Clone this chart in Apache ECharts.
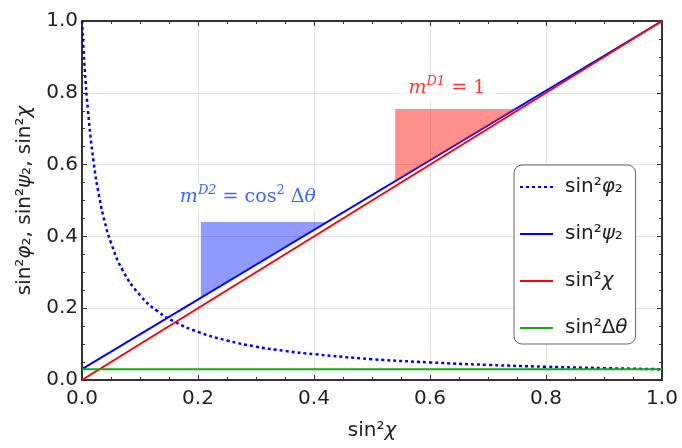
<!DOCTYPE html>
<html><head><meta charset="utf-8">
<script src="https://cdn.jsdelivr.net/npm/echarts@6/dist/echarts.min.js"></script>
<style>html,body{margin:0;padding:0;background:#fff}#c{width:682px;height:448px}</style>
</head><body><div id="c"></div>
<script>
// ---- data ----
const lineX = [0, 1];
const psi2Y = [0.03, 1.0];      // sin^2 psi_2
const chiY = [0.0, 1.0];        // sin^2 chi
const dThetaY = [0.03, 0.03];   // sin^2 Delta theta
const phiX = [0, 0.005, 0.01, 0.02, 0.03, 0.04, 0.05, 0.07, 0.1, 0.13, 0.16, 0.2, 0.25, 0.3, 0.35, 0.4, 0.5, 0.6, 0.7, 0.8, 0.9, 1.0];
const phiY = [1.0, 0.86, 0.756, 0.607, 0.508, 0.436, 0.382, 0.306, 0.236, 0.192, 0.162, 0.134, 0.11, 0.093, 0.081, 0.072, 0.058, 0.049, 0.042, 0.037, 0.033, 0.03];
const blueTriX = [0.205, 0.205, 0.422];
const blueTriY = [0.229, 0.44, 0.44];
const redTriX = [0.54, 0.54, 0.75];
const redTriY = [0.554, 0.755, 0.755];
const blueLabelAt = [0.286, 0.51];
const redLabelAt = [0.629, 0.813];
const seriesNames = ['phi2', 'psi2', 'chi', 'dtheta'];

const pairs = (xs, ys) => xs.map((x, i) => [x, ys[i]]);
const SANS = 'DejaVu Sans';
const SERIF = 'DejaVu Serif';
const TXT = '#222';

const legendText = {
  phi2: '{p|sin²}{i|φ}{n|₂}',
  psi2: '{p|sin²}{i|ψ}{n|₂}',
  chi: '{p|sin²}{i|χ}',
  dtheta: '{p|sin²}{n|Δ}{i|θ}'
};
const richSans = {
  p: {fontFamily: SANS, fontSize: 20, color: TXT, padding: [0, 0, 0, 7]},
  n: {fontFamily: SANS, fontSize: 20, color: TXT},
  i: {fontFamily: SANS, fontSize: 20, fontStyle: 'italic', color: TXT}
};
const richAxis = {
  n: {fontFamily: SANS, fontSize: 20, color: TXT},
  i: {fontFamily: SANS, fontSize: 20, fontStyle: 'italic', color: TXT}
};

function tri(xs, ys, color) {
  return {
    type: 'custom', z: 5, silent: true,
    data: [[xs[0], ys[0]]],
    renderItem: (params, api) => ({
      type: 'polygon',
      shape: {points: xs.map((x, i) => api.coord([x, ys[i]]))},
      style: {fill: color}
    })
  };
}
function mathLabel(at, color, text) {
  return {
    type: 'scatter', z: 6, silent: true, symbolSize: 0,
    data: [at],
    label: {
      show: true, position: 'inside', formatter: text,
      backgroundColor: '#fff', padding: [0, 10],
      rich: {
        m: {fontFamily: SERIF, fontSize: 19, fontStyle: 'italic', color, lineHeight: 26, verticalAlign: 'middle'},
        s: {fontFamily: SERIF, fontSize: 13, fontStyle: 'italic', color, verticalAlign: 'top'},
        t: {fontFamily: SERIF, fontSize: 13, color, verticalAlign: 'top'},
        r: {fontFamily: SERIF, fontSize: 19, color, lineHeight: 26, verticalAlign: 'middle'}
      }
    }
  };
}

const axisCommon = {
  type: 'value', min: 0, max: 1, interval: 0.2,
  axisLine: {show: true, onZero: false, lineStyle: {color: '#333', width: 2}},
  axisTick: {show: true, inside: true, length: 5, lineStyle: {color: '#333', width: 1}},
  minorTick: {show: true, splitNumber: 4, length: 3, lineStyle: {color: '#333', width: 1}}
};

const chart = echarts.init(document.getElementById('c'));
chart.setOption({
  animation: false,
  backgroundColor: '#fff',
  grid: {left: 82, right: 20, top: 21, bottom: 68},
  xAxis: [
    Object.assign({}, axisCommon, {
      position: 'bottom',
      name: '{n|sin²}{i|χ}', nameLocation: 'middle', nameGap: 41,
      nameTextStyle: {rich: richAxis},
      axisLabel: {margin: 9, fontFamily: SANS, fontSize: 20, color: TXT, formatter: v => v.toFixed(1)},
      splitLine: {show: true, lineStyle: {color: '#e3e3e3', width: 1}}
    }),
    Object.assign({}, axisCommon, {position: 'top', axisLabel: {show: false}, splitLine: {show: false}})
  ],
  yAxis: [
    Object.assign({}, axisCommon, {
      position: 'left',
      name: '{n|sin²}{i|φ}{n|₂, sin²}{i|ψ}{n|₂, sin²}{i|χ}', nameLocation: 'middle', nameGap: 46,
      nameTextStyle: {rich: richAxis},
      axisLabel: {margin: 4, fontFamily: SANS, fontSize: 20, color: TXT, formatter: v => v.toFixed(1)},
      splitLine: {show: true, lineStyle: {color: '#e3e3e3', width: 1}}
    }),
    Object.assign({}, axisCommon, {position: 'right', axisLabel: {show: false}, splitLine: {show: false}})
  ],
  legend: {
    data: seriesNames, orient: 'vertical', left: 514, top: 165,
    itemWidth: 33, itemHeight: 10, itemGap: 25,
    padding: [11, 8, 5, 5],
    borderColor: '#666', borderWidth: 1, borderRadius: 8, backgroundColor: '#fff',
    itemStyle: {opacity: 0},
    formatter: name => legendText[name],
    textStyle: {rich: richSans, lineHeight: 22}
  },
  series: [
    {name: 'phi2', type: 'line', data: pairs(phiX, phiY), smooth: true, symbol: 'none', z: 3,
     lineStyle: {color: '#0000ff', width: 2.5, type: [3, 3]}, itemStyle: {color: '#0000ff'}},
    {name: 'psi2', type: 'line', data: pairs(lineX, psi2Y), symbol: 'none', z: 3,
     lineStyle: {color: '#0000ff', width: 2}, itemStyle: {color: '#0000ff'}},
    {name: 'chi', type: 'line', data: pairs(lineX, chiY), symbol: 'none', z: 3,
     lineStyle: {color: '#ff0000', width: 2}, itemStyle: {color: '#ff0000'}},
    {name: 'dtheta', type: 'line', data: pairs(lineX, dThetaY), symbol: 'none', z: 3,
     lineStyle: {color: '#11aa11', width: 2}, itemStyle: {color: '#11aa11'}},
    tri(blueTriX, blueTriY, 'rgba(20,40,250,0.47)'),
    tri(redTriX, redTriY, 'rgba(255,20,10,0.47)'),
    mathLabel(blueLabelAt, '#0a3cff', '{m|m}{s|D2}{r| = cos}{t|2}{r| Δ}{m|θ}'),
    mathLabel(redLabelAt, '#ff0000', '{m|m}{s|D1}{r| = 1}')
  ]
});
</script></body></html>
